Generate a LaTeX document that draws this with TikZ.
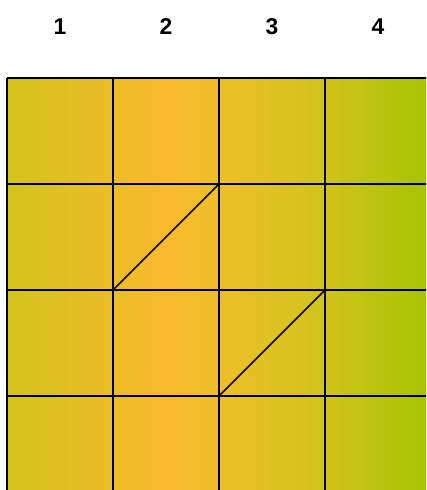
\documentclass[tikz,border=0pt]{standalone}
\usepackage{fontspec}
\setmainfont{Liberation Sans}
\usepackage{tikz}
\definecolor{bandleft}{RGB}{211,195,29}
\definecolor{bandpeak}{RGB}{249,185,45}
\definecolor{bandmid}{RGB}{237,191,40}
\definecolor{bandlate}{RGB}{210,195,28}
\definecolor{bandright}{RGB}{164,196,0}
\pgfdeclarehorizontalshading{band}{100bp}{color(0bp)=(bandleft); color(25bp)=(bandleft);
  color(43.75bp)=(bandpeak); color(50bp)=(bandmid); color(62.5bp)=(bandlate);
  color(75bp)=(bandright); color(100bp)=(bandright)}

\begin{document}
\begin{tikzpicture}[x=0.02cm, y=-0.02cm,
    gridline/.style={black, line width=1.1pt},
    diagline/.style={black, line width=0.9pt},
    collabel/.style={font=\bfseries\fontsize{13}{15}\selectfont}]
  \useasboundingbox (0,0) rectangle (426,490);
  \clip (0,0) rectangle (426,490);
  %% shaded band
  \shade[shading=band] (7,78) rectangle (431,502);
  %% grid
  \foreach \i in {0,...,4} {
    \draw[gridline] (7+106*\i,78) -- (7+106*\i,502);
    \draw[gridline] (7,78+106*\i) -- (431,78+106*\i);
  }
  %% diagonals
  \draw[diagline] (113,290) -- (219,184);
  \draw[diagline] (219,396) -- (325,290);
  %% column labels
  \foreach \n in {1,...,4}
    \node[collabel] (col\n) at (106*\n-46,27) {\n};
\end{tikzpicture}
\end{document}
